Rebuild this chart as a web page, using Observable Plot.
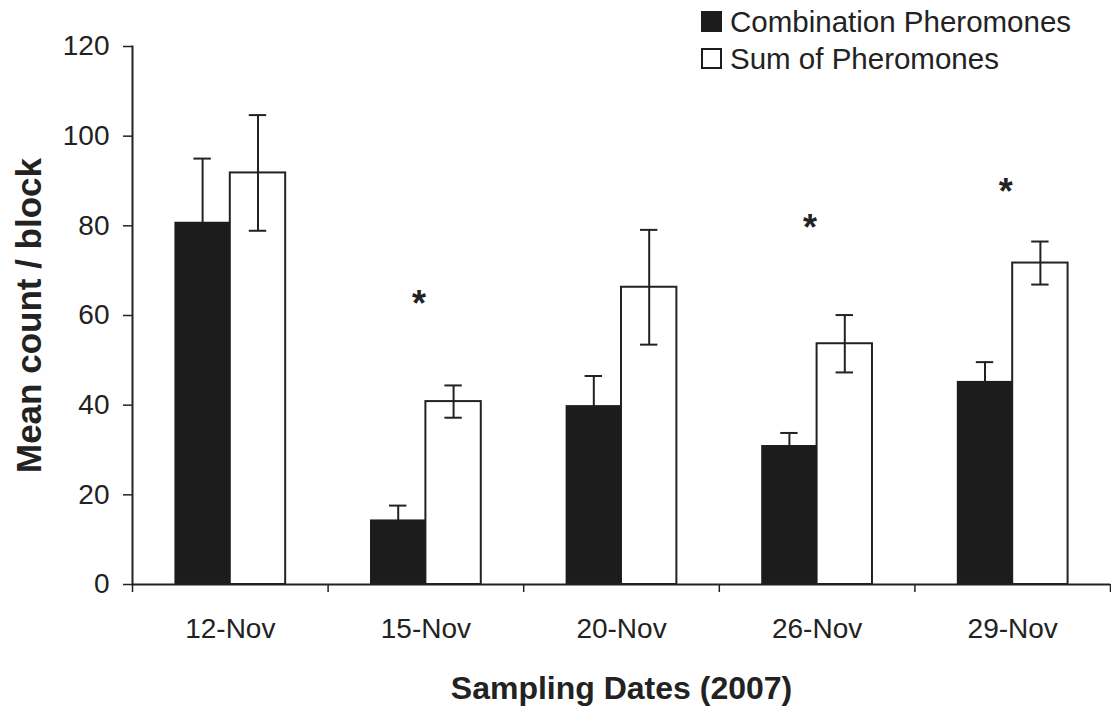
<!DOCTYPE html>
<html><head><meta charset="utf-8">
<script src="https://cdn.jsdelivr.net/npm/d3@7"></script>
<script src="https://cdn.jsdelivr.net/npm/@observablehq/plot@0.6"></script>
<style>
body{margin:0;background:#fff;}
#wrap{position:relative;width:1111px;height:708px;font-family:"Liberation Sans",Arial,sans-serif;}
#legend{position:absolute;left:701px;top:3px;font-size:29.5px;color:#222;}
.row{display:flex;align-items:center;height:37px;white-space:nowrap}
.sw{width:21px;height:21px;box-sizing:border-box;margin-right:8px;border:2px solid #1c1c1c;flex:none}
</style></head><body><div id="wrap"><div id="chart"></div><div id="legend"></div></div>
<script>
const dates = ["12-Nov", "15-Nov", "20-Nov", "26-Nov", "29-Nov"];
const series = ["Combination Pheromones", "Sum of Pheromones"];
const combMean = [80.8, 14.4, 39.9, 31.0, 45.3];
const combErr = [14.2, 3.2, 6.6, 2.8, 4.3];
const sumMean = [91.8, 40.8, 66.3, 53.7, 71.7];
const sumErr = [12.9, 3.6, 12.8, 6.4, 4.8];
const sigDates = ["15-Nov", "26-Nov", "29-Nov"];
const sigY = [64, 81, 89];
const yTicks = [0, 20, 40, 60, 80, 100, 120];
const xTitle = "Sampling Dates (2007)";
const yTitle = "Mean count / block";

const ink = "#222";
const barFill = "#1c1c1c";
const comb = dates.map((d, i) => ({date: d, series: series[0], mean: combMean[i], err: combErr[i]}));
const sum = dates.map((d, i) => ({date: d, series: series[1], mean: sumMean[i], err: sumErr[i]}));
const sig = sigDates.map((d, i) => ({date: d, y: sigY[i]}));

const W = 1111, H = 708, mL = 132, mR = 1, mT = 46, mB = 124;
const halfStep = (W - mL - mR) / dates.length / 2;

const errMarks = (data) => [
  Plot.ruleX(data, {fx: "date", x: "series", y1: d => d.mean - d.err, y2: d => d.mean + d.err, stroke: ink, strokeWidth: 2}),
  Plot.tickY(data, {fx: "date", x: "series", y: d => d.mean + d.err, stroke: ink, strokeWidth: 2, insetLeft: 19, insetRight: 19}),
  Plot.tickY(data, {fx: "date", x: "series", y: d => d.mean - d.err, stroke: ink, strokeWidth: 2, insetLeft: 19, insetRight: 19})
];

const chart = Plot.plot({
  width: W, height: H, marginLeft: mL, marginRight: mR, marginTop: mT, marginBottom: mB,
  style: {fontFamily: "'Liberation Sans', Arial, sans-serif", fontSize: "28px", color: ink, background: "#fff"},
  fx: {domain: dates, padding: 0, round: false},
  x: {domain: series, paddingInner: 0, paddingOuter: 0.766, round: false, axis: null},
  y: {domain: [0, 120]},
  marks: [
    Plot.barY(sum, {fx: "date", x: "series", y: "mean", fill: "#fff", stroke: ink, strokeWidth: 2}),
    ...errMarks(comb),
    Plot.barY(comb, {fx: "date", x: "series", y: "mean", fill: barFill}),
    ...errMarks(sum),
    Plot.ruleY([0], {stroke: ink, strokeWidth: 2}),
    Plot.frame({anchor: "left", fx: () => dates[0], stroke: ink, strokeWidth: 2}),
    Plot.text(sig, {fx: "date", y: "y", text: () => "*", fontSize: 36, fontWeight: "bold", dx: -7, dy: 7, lineAnchor: "middle", fill: ink}),
    Plot.axisY({ticks: yTicks, tickSize: 9, tickPadding: 14, label: null, stroke: ink, strokeWidth: 1.5, fill: ink}),
    Plot.axisY({ticks: [], label: yTitle, labelAnchor: "center", labelOffset: 116, labelArrow: "none", fontSize: 35, fontWeight: "bold", fill: ink}),
    Plot.axisFx({anchor: "bottom", tickSize: 0, tickPadding: 34, label: null, fill: ink}),
    Plot.axisFx({anchor: "bottom", tickSize: 8, tickFormat: () => "", dx: -halfStep, label: null, stroke: ink, strokeWidth: 1.5}),
    Plot.axisFx({anchor: "bottom", ticks: [dates[dates.length - 1]], tickSize: 8, tickFormat: () => "", dx: halfStep, label: null, stroke: ink, strokeWidth: 1.5}),
    Plot.axisFx({anchor: "bottom", ticks: [], label: xTitle, labelAnchor: "center", labelOffset: 114, labelArrow: "none", fontSize: 32, fontWeight: "bold", fill: ink, dx: -10})
  ]
});
document.getElementById("chart").appendChild(chart);

const legend = document.getElementById("legend");
series.forEach((s, i) => {
  const row = document.createElement("div");
  row.className = "row";
  const sw = document.createElement("span");
  sw.className = "sw";
  sw.style.background = i === 0 ? barFill : "#fff";
  row.appendChild(sw);
  row.appendChild(document.createTextNode(s));
  legend.appendChild(row);
});
</script></body></html>
